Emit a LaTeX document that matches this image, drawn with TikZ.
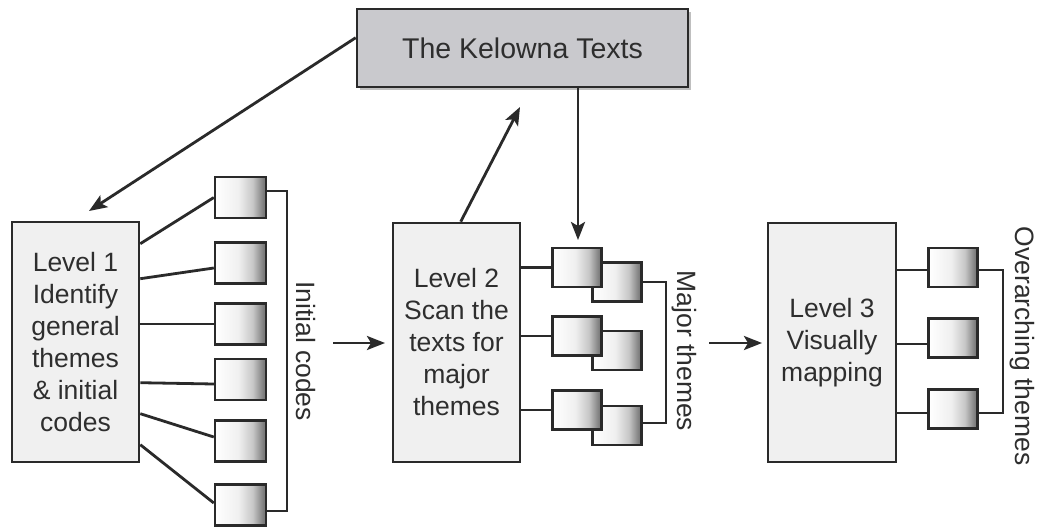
\documentclass[tikz,border=0pt]{standalone}
\usepackage{fontspec}
\setmainfont{Liberation Sans}
\usetikzlibrary{arrows.meta,calc,shadows}
\definecolor{ink}{HTML}{2A2A2A}
\definecolor{txt}{HTML}{2E2E2E}
\definecolor{topfill}{HTML}{C9C9CD}
\definecolor{lvlfill}{HTML}{F0F0F0}
\pgfdeclarehorizontalshading{codeshade}{100bp}{color(0bp)=(white); color(25bp)=(white); color(48bp)=(white!94!black); color(62bp)=(black!22); color(72bp)=(black!50); color(75bp)=(black!55); color(100bp)=(black!55)}
\tikzset{
  lvlbox/.style={draw=ink, line width=2.6pt, fill=lvlfill, inner sep=0pt, align=center,
    text=txt, font=\fontsize{26.5}{32}\selectfont},
  topbox/.style={draw=ink, line width=2.6pt, fill=topfill, inner sep=0pt, text=txt,
    font=\fontsize{28.5}{32}\selectfont,
    drop shadow={shadow xshift=3pt, shadow yshift=-3pt, opacity=0.25, fill=black}},
  codebox/.style={draw=ink, line width=2.4pt, shading=codeshade,
    inner sep=0pt, minimum width=49pt, minimum height=39pt},
  conn/.style={draw=ink, line width=2.8pt},
  brk/.style={draw=ink, line width=2pt},
  flow/.style={draw=ink, line width=2.8pt, -{Stealth[length=18pt,width=14pt,inset=4pt]}},
  sidelabel/.style={rotate=-90, text=txt, font=\fontsize{26.5}{32}\selectfont, inner sep=0pt}
}
\begin{document}
\begin{tikzpicture}[x=1pt,y=-1pt]
\useasboundingbox[fill=white] (0,0) rectangle (1040,527);

% main boxes
\node[topbox, minimum width=331pt, minimum height=78pt] (K) at (522.5,48) {The Kelowna Texts};
\node[lvlbox, minimum width=127pt, minimum height=240pt] (L1) at (75.5,342) {Level 1\\Identify\\general\\themes\\\&~initial\\codes};
\node[lvlbox, minimum width=127pt, minimum height=239pt] (L2) at (456.5,342.5) {Level 2\\Scan the\\texts for\\major\\themes};
\node[lvlbox, minimum width=128pt, minimum height=239pt] (L3) at (832,342.5) {Level 3\\Visually\\mapping};

% level 1 code boxes
\node[codebox, minimum width=51pt, minimum height=41pt] (c1) at (240.5,197.5) {};
\node[codebox, minimum width=51pt, minimum height=41pt] (c2) at (240.5,263) {};
\node[codebox, minimum width=51pt, minimum height=41pt] (c3) at (240.5,324) {};
\node[codebox, minimum width=51pt, minimum height=41pt] (c4) at (240.5,379.5) {};
\node[codebox, minimum width=51pt, minimum height=41pt] (c5) at (240.5,441) {};
\node[codebox, minimum width=51pt, minimum height=41pt] (c6) at (240.5,505) {};

% level 2 paired boxes (back first, front on top)
\node[codebox] (p1b) at (617,282) {};
\node[codebox] (p1a) at (577,267.5) {};
\node[codebox] (p2b) at (617,350.5) {};
\node[codebox] (p2a) at (577,336) {};
\node[codebox] (p3b) at (617,425.5) {};
\node[codebox] (p3a) at (577,410) {};

% level 3 boxes
\node[codebox] (s1) at (953,267.5) {};
\node[codebox] (s2) at (953,338) {};
\node[codebox] (s3) at (953,409) {};

% connectors level 1
\draw[conn] ($(L1.north east)+(0,23)$) -- (c1.west);
\draw[conn] ($(L1.north east)+(0,58)$) -- ($(c2.west)+(0,5)$);
\draw[conn] (L1.east |- c3.west) -- (c3.west);
\draw[conn] ($(L1.north east)+(0,162)$) -- ($(c4.west)+(0,4.5)$);
\draw[conn] ($(L1.north east)+(0,193)$) -- ($(c5.west)+(0,-4)$);
\draw[conn] ($(L1.north east)+(0,224)$) -- ($(c6.west)+(0,-2)$);
\draw[brk] ($(c1.east)+(0,-7)$) -- ($(c1.east)+(20,-7)$) -- ($(c6.east)+(20,6)$) -- ($(c6.east)+(0,6)$);
\node[sidelabel] (lab1) at (306,351) {Initial codes};

% connectors level 2
\draw[conn] (L2.east |- p1a.west) -- (p1a.west);
\draw[conn] (L2.east |- p2a.west) -- (p2a.west);
\draw[conn] (L2.east |- p3a.west) -- (p3a.west);
\draw[brk] (p1b.east) -- ($(p1b.east)+(23,0)$) -- ($(p3b.east)+(23,-2.5)$) -- ($(p3b.east)+(0,-2.5)$);
\node[sidelabel] (lab2) at (684,351) {Major themes};

% connectors level 3
\draw[conn] ($(L3.east |- s1.west)+(0,2.5)$) -- ($(s1.west)+(0,2.5)$);
\draw[conn] ($(L3.east |- s2.west)+(0,6)$) -- ($(s2.west)+(0,6)$);
\draw[conn] ($(L3.east |- s3.west)+(0,4)$) -- ($(s3.west)+(0,4)$);
\draw[brk] ($(s1.east)+(0,2.5)$) -- ($(s1.east)+(24,2.5)$) -- ($(s3.east)+(24,4)$) -- ($(s3.east)+(0,4)$);
\node[sidelabel] (lab3) at (1022,346) {Overarching themes};

% flow arrows
\coordinate (t1) at (89,211);
\draw[flow] ($(K.north west)+(0,30)$) -- (t1);
\coordinate (t2) at (520,107);
\draw[flow] ($(L2.north west)+(69,0)$) -- (t2);
\coordinate (t3) at (578,240);
\draw[flow] (K.south -| t3) -- (t3);
\coordinate (s4) at (333,343);
\coordinate (t4) at (385,343);
\draw[flow] (s4) -- (t4);
\coordinate (s5) at (709,343);
\coordinate (t5) at (762,343);
\draw[flow] (s5) -- (t5);
\end{tikzpicture}
\end{document}
